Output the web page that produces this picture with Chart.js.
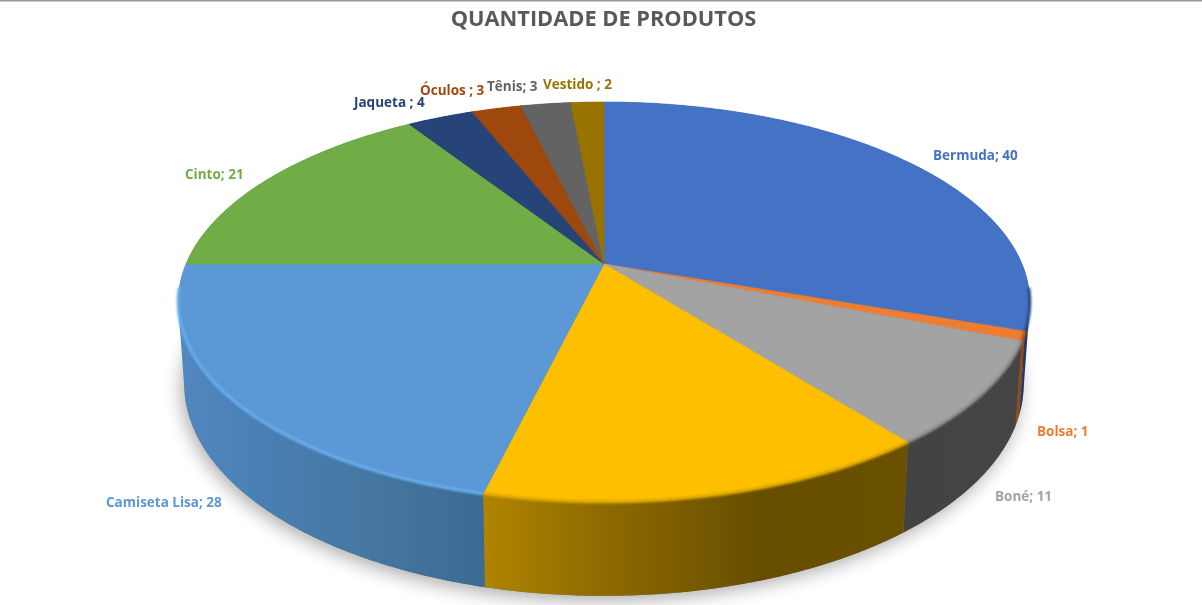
<!DOCTYPE html>
<html>
<head>
<meta charset="utf-8">
<title>Quantidade de produtos</title>
<script src="https://cdn.jsdelivr.net/npm/chart.js@4"></script>
<style>
  html, body { margin: 0; padding: 0; background: #fff; overflow: hidden; }
  canvas { display: block; }
</style>
</head>
<body>
<canvas id="pieChart" width="1202" height="605"></canvas>
<script>
const categories = ['Bermuda', 'Bolsa', 'Boné', 'Calça', 'Camiseta Lisa', 'Cinto', 'Jaqueta ', 'Óculos ', 'Tênis', 'Vestido '];
const quantities = [40, 1, 11, 19, 28, 21, 4, 3, 3, 2];
const topColors = ['#4472C4', '#ED7D31', '#A3A3A3', '#FDBF00', '#5B98D5', '#70AD47', '#264478', '#9E480E', '#636363', '#997300'];
const rimColors = ['#2b4a85', '#a5561f', '#8a8a8a', '#d9a300', '#68aef0', '#70AD47', '#264478', '#9E480E', '#636363', '#997300'];

// horizontal gradient of the side wall, [x, colour]
const wallStops = [
  [[900, '#2f5597'], [1030, '#1f3864']],
  [[1000, '#b05a20'], [1025, '#8a4516']],
  [[900, '#434343'], [1025, '#454545']],
  [[485, '#b08400'], [600, '#8f6b00'], [760, '#674e00'], [905, '#6a5000']],
  [[177, '#5288c0'], [250, '#4a80b5'], [380, '#45769f'], [485, '#3c6a95']],
  [[0, '#4c7a30'], [400, '#4c7a30']],
  [[0, '#1a2f54'], [400, '#1a2f54']],
  [[0, '#6d320a'], [400, '#6d320a']],
  [[0, '#444444'], [400, '#444444']],
  [[0, '#6a5000'], [400, '#6a5000']]
];

// where each data label starts; the yellow slice has none in the original
const labelSpots = [
  [933, 155], [1037, 431], [995, 496], null, [106, 502],
  [185, 174], [354, 102], [420, 90], [487, 86], [543, 84]
];

const view = { cx: 604, tilt: 0.19 };
const topRim = { cy: 264, a: 418, b: 192.8 };
const baseRim = { cy: 344, a: 412, b: 204 };

// angle from Chart.js arc -> point on the tilted disc
function project(rim, angle) {
  const u = Math.cos(angle);
  const v = Math.sin(angle);
  const w = 1 - view.tilt * v;
  return [view.cx + rim.a * u / w, rim.cy + rim.b * v / w];
}

function rimPoints(rim, start, end) {
  const steps = Math.max(2, Math.ceil((end - start) / 0.01));
  const pts = [];
  for (let i = 0; i <= steps; i++) pts.push(project(rim, start + (end - start) * i / steps));
  return pts;
}

function tracePath(ctx, pts) {
  pts.forEach((p, i) => (i ? ctx.lineTo(p[0], p[1]) : ctx.moveTo(p[0], p[1])));
}

// same winding for every strip, otherwise overlapping strips cancel out
function wound(quad) {
  let area = 0;
  quad.forEach((p, i) => {
    const q = quad[(i + 1) % quad.length];
    area += p[0] * q[1] - q[0] * p[1];
  });
  return area < 0 ? quad.slice().reverse() : quad;
}

const disc3dPlugin = {
  id: 'disc3d',
  beforeDatasetsDraw(chart) {
    const { ctx } = chart;
    const arcs = chart.getDatasetMeta(0).data;
    const full = -Math.PI / 2;

    ctx.save();
    ctx.fillStyle = '#9a9a9a';
    ctx.fillRect(0, 0, 1202, 1.5);

    // soft shadow under the base
    ctx.save();
    ctx.shadowColor = 'rgba(0,0,0,0.32)';
    ctx.shadowBlur = 18;
    ctx.shadowOffsetX = -3;
    ctx.shadowOffsetY = 5;
    ctx.fillStyle = '#777';
    ctx.beginPath();
    tracePath(ctx, rimPoints(baseRim, full, full + Math.PI * 2));
    ctx.closePath();
    ctx.fill();
    ctx.restore();

    // side wall: all strips of a slice in one path, filled once, so no seams
    arcs.forEach((arc, i) => {
      const top = rimPoints(topRim, arc.startAngle, arc.endAngle);
      const base = rimPoints(baseRim, arc.startAngle, arc.endAngle);
      const stops = wallStops[i];
      const x0 = stops[0][0];
      const x1 = stops[stops.length - 1][0];
      const grad = ctx.createLinearGradient(x0, 0, x1, 0);
      stops.forEach(s => grad.addColorStop((s[0] - x0) / (x1 - x0), s[1]));
      ctx.fillStyle = grad;
      ctx.beginPath();
      for (let k = 0; k < top.length - 1; k++) {
        tracePath(ctx, wound([top[k], top[k + 1], base[k + 1], base[k]]));
        ctx.closePath();
      }
      ctx.fill();
    });

    // top face
    arcs.forEach(arc => {
      ctx.fillStyle = arc.options.backgroundColor;
      ctx.strokeStyle = arc.options.backgroundColor;
      ctx.lineWidth = 0.6;
      ctx.beginPath();
      tracePath(ctx, [[view.cx, topRim.cy]].concat(rimPoints(topRim, arc.startAngle, arc.endAngle)));
      ctx.closePath();
      ctx.fill();
      ctx.stroke();
    });

    // bevel along the front edge only
    const frontStart = 0.12;
    const frontEnd = Math.PI - 0.12;
    ctx.filter = 'blur(1px)';
    ctx.lineWidth = 3;
    arcs.forEach((arc, i) => {
      const start = Math.max(arc.startAngle, frontStart);
      const end = Math.min(arc.endAngle, frontEnd);
      if (end <= start) return;
      ctx.strokeStyle = rimColors[i];
      ctx.beginPath();
      tracePath(ctx, rimPoints(topRim, start, end));
      ctx.stroke();
    });
    ctx.filter = 'none';
    ctx.restore();

    return false;
  },
  afterDraw(chart) {
    const { ctx } = chart;
    ctx.save();
    ctx.font = 'bold 13.5px "Open Sans"';
    ctx.textAlign = 'left';
    ctx.textBaseline = 'middle';
    categories.forEach((name, i) => {
      if (!labelSpots[i]) return;
      ctx.fillStyle = topColors[i];
      ctx.fillText(`${name}; ${quantities[i]}`, labelSpots[i][0], labelSpots[i][1] + 1);
    });
    ctx.restore();
  }
};

new Chart(document.getElementById('pieChart'), {
  type: 'pie',
  data: {
    labels: categories,
    datasets: [{
      data: quantities,
      backgroundColor: topColors,
      borderWidth: 0
    }]
  },
  options: {
    responsive: false,
    animation: false,
    layout: { padding: { left: 5 } },
    plugins: {
      legend: { display: false },
      tooltip: { enabled: false },
      title: {
        display: true,
        text: 'QUANTIDADE DE PRODUTOS',
        color: '#595959',
        font: { family: '"Open Sans"', size: 21.8, weight: 'bold' },
        padding: { top: 7, bottom: 10 }
      }
    }
  },
  plugins: [disc3dPlugin]
});
</script>
</body>
</html>
